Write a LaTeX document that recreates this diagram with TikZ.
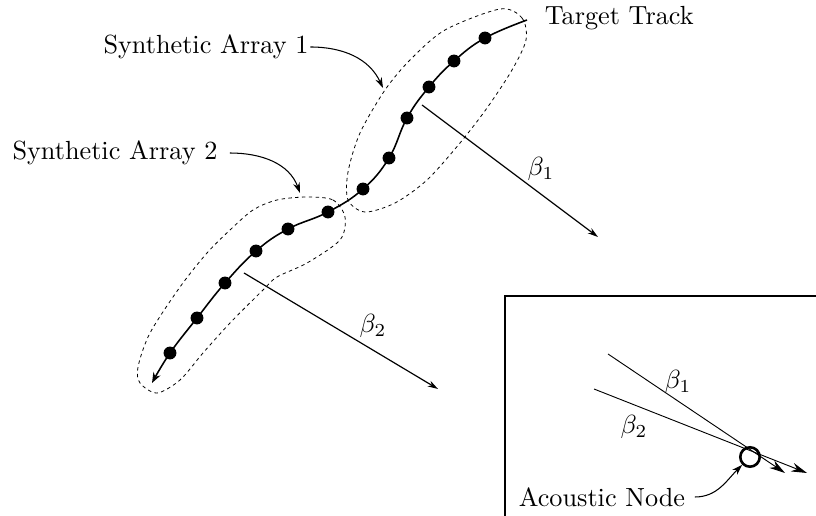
\documentclass[tikz,border=0pt]{standalone}
\usepackage{amsmath,amssymb}
\usepackage{tikz}
\usetikzlibrary{arrows.meta,positioning,calc}
\tikzset{
    ponto/.style={
        circle,
        fill=black,
        inner sep=0pt,
        minimum size=4.9pt
    },
    trajetoria/.style={line width=0.6pt, -{Stealth[length=4pt,width=3pt]}},
    regiao/.style={line width=0.3pt, dash pattern=on 1.3pt off 1.3pt},
    chamada/.style={line width=0.4pt, -{Stealth[length=4pt,width=2.6pt]}},
    feixe/.style={line width=0.45pt, -{Stealth[length=4pt,width=2.4pt]}},
    feixeNo/.style={line width=0.35pt, -{Stealth[length=6pt,width=3.4pt]}},
    rotulo/.style={inner sep=0.5pt},
    sensor/.style={circle, draw, line width=1pt, inner sep=0pt, minimum size=7.4pt}
}

\begin{document}
\begin{tikzpicture}[x=0.0134cm, y=0.0134cm]

    \useasboundingbox (0,0) rectangle (816,-516);

    % pontos da trajetoria do alvo
    \coordinate (ini) at (527,-20);
    \foreach \px/\py [count=\i] in {485/38, 454/61, 429/87, 407/118, 389/158, 363/189,
                                    328/212, 288/229, 256/251, 225/283, 197/318, 170/353}
        {\coordinate (t\i) at (\px,-\py);}
    \coordinate (fim) at (152,-383);

    % regioes dos arranjos sinteticos
    \draw[regiao] plot[smooth cycle] coordinates {
        (500,-9) (522,-18) (526,-40) (512,-70) (487,-108) (460,-143)
        (427,-180) (395,-203) (365,-212) (348,-200) (348,-172) (360,-133)
        (385,-90) (410,-60) (445,-30)};
    \draw[regiao] plot[smooth cycle] coordinates {
        (307,-197) (333,-200) (345,-217) (340,-240) (307,-263) (277,-277)
        (263,-290) (230,-323) (203,-353) (180,-380) (157,-393) (140,-383)
        (138,-367) (150,-333) (180,-287) (207,-253) (230,-230) (253,-210)
        (277,-200)};

    \draw[trajetoria] plot[smooth, tension=0.7] coordinates {
        (ini) (t1) (t2) (t3) (t4) (t5) (t6) (t7) (t8) (t9) (t10) (t11) (t12) (fim)};
    \foreach \i in {1,...,12}
        \node[ponto] (p\i) at (t\i) {};

    \node[rotulo, anchor=west] (alvo) at (543,-18) {Target Track};

    % direcoes de chegada
    \coordinate (b1ini) at (422,-105);
    \coordinate (b1fim) at (598,-237);
    \coordinate (b2ini) at (244,-273);
    \coordinate (b2fim) at (438,-389);
    \draw[feixe] (b1ini) -- (b1fim);
    \draw[feixe] (b2ini) -- (b2fim);
    \node[rotulo] (beta1) at (541,-169) {$\beta_1$};
    \node[rotulo] (beta2) at (373,-326) {$\beta_2$};

    % rotulos dos arranjos
    \node[rotulo] (arranjo1) at (206,-47) {Synthetic Array 1};
    \node[rotulo] (arranjo2) at (115,-153) {Synthetic Array 2};
    \coordinate (alvo1) at (383,-88);
    \coordinate (alvo2) at (300,-193);
    \draw[chamada] (arranjo1.east) to[out=0, in=115] (alvo1);
    \draw[chamada] ([xshift=4pt]arranjo2.east) to[out=0, in=110] (alvo2);

    % detalhe do no acustico
    \draw[line width=0.8pt] (816,-296) -- (505,-296) -- (505,-516);
    \coordinate (n1ini) at (608,-354);
    \coordinate (n1fim) at (785,-473);
    \coordinate (n2ini) at (594,-389);
    \coordinate (n2fim) at (807,-473);
    \draw[feixeNo] (n1ini) -- (n1fim);
    \draw[feixeNo] (n2ini) -- (n2fim);
    \node[sensor] (no) at (750,-457) {};
    \node[rotulo] (nb1) at (678,-382) {$\beta_1$};
    \node[rotulo] (nb2) at (634,-427) {$\beta_2$};
    \node[rotulo] (acustico) at (602,-497) {Acoustic Node};
    \draw[chamada] ([xshift=3pt]acustico.east) to[out=0, in=225] (no);

\end{tikzpicture}
\end{document}
